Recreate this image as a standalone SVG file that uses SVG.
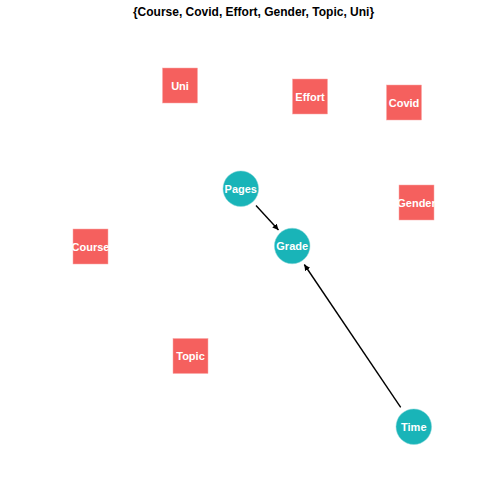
<svg xmlns="http://www.w3.org/2000/svg" width="504" height="504" viewBox="0 0 504 504">
<style>
.sq{fill:#F5605E;stroke:#f9a9a8;stroke-width:0.5}
.ci{fill:#19B4B8;stroke:#8fd8da;stroke-width:0.5}
.lb{font-family:"Liberation Sans",Arial,sans-serif;font-weight:bold;font-size:11px;fill:#fff;text-anchor:middle}
.ttl{font-family:"Liberation Sans",Arial,sans-serif;font-weight:bold;font-size:12px;fill:#000;text-anchor:middle}
.ed{stroke:#000;stroke-width:1.4;fill:none;marker-end:url(#ah)}
</style>
<defs>
<marker id="ah" viewBox="0 0 10 10" refX="10" refY="5" markerWidth="6" markerHeight="6" markerUnits="userSpaceOnUse" orient="auto">
<path d="M0,0 L10,5 L0,10 z" fill="#000"/>
</marker>
</defs>
<rect width="504" height="504" fill="#fff"/>
<text class="ttl" x="253.5" y="16">{Course, Covid, Effort, Gender, Topic, Uni}</text>
<g id="edges">
<line class="ed" x1="256" y1="205.5" x2="278.5" y2="230"/>
<line class="ed" x1="400.7" y1="407.3" x2="304.3" y2="264.5"/>
</g>
<g id="node-Uni"><rect class="sq" x="162.5" y="68" width="35" height="35"/><text class="lb" x="180" y="89.5">Uni</text></g>
<g id="node-Effort"><rect class="sq" x="292.5" y="79" width="35" height="35"/><text class="lb" x="310" y="100.5">Effort</text></g>
<g id="node-Covid"><rect class="sq" x="386.5" y="85" width="35" height="35"/><text class="lb" x="404" y="106.5">Covid</text></g>
<g id="node-Gender"><rect class="sq" x="399" y="185" width="35" height="35"/><text class="lb" x="416.5" y="206.5">Gender</text></g>
<g id="node-Course"><rect class="sq" x="73" y="229" width="35" height="35"/><text class="lb" x="90.5" y="250.5">Course</text></g>
<g id="node-Topic"><rect class="sq" x="173" y="338.5" width="35" height="35"/><text class="lb" x="190.5" y="360">Topic</text></g>
<g id="node-Pages"><circle class="ci" cx="240.8" cy="188.7" r="17.8"/><text class="lb" x="240.8" y="192.7">Pages</text></g>
<g id="node-Grade"><circle class="ci" cx="292.2" cy="246" r="17.8"/><text class="lb" x="292.2" y="250">Grade</text></g>
<g id="node-Time"><circle class="ci" cx="413.8" cy="426.7" r="17.8"/><text class="lb" x="413.8" y="430.7">Time</text></g>
</svg>
